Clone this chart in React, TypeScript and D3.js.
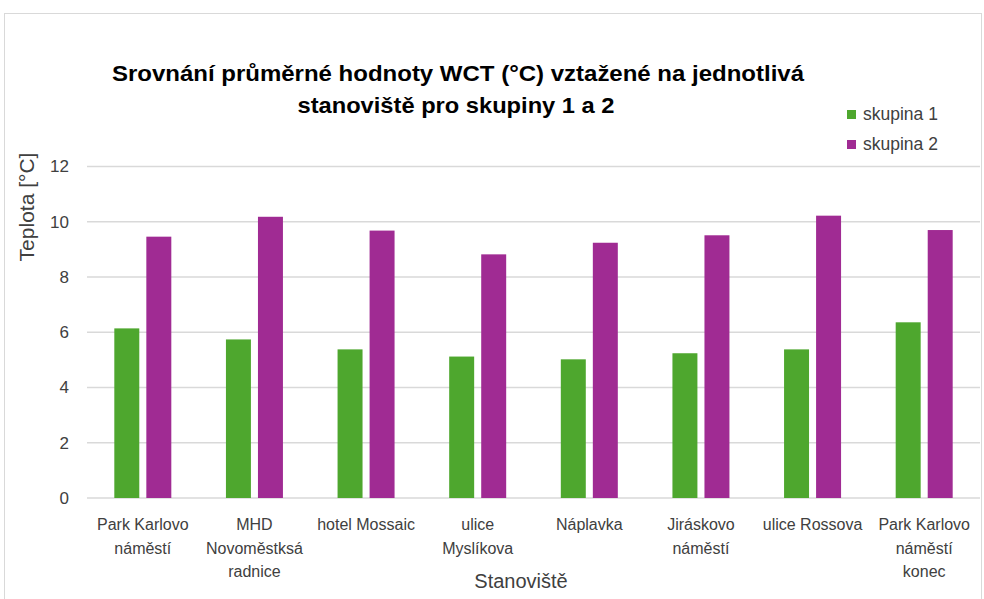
import * as d3 from "d3";

// stanoviště (popisky rozdělené do řádků jako v grafu)
const categories: string[][] = [
  ["Park Karlovo", "náměstí"],
  ["MHD", "Novoměstksá", "radnice"],
  ["hotel Mossaic"],
  ["ulice", "Myslíkova"],
  ["Náplavka"],
  ["Jiráskovo", "náměstí"],
  ["ulice Rossova"],
  ["Park Karlovo", "náměstí", "konec"],
];
const skupina1 = [6.14, 5.74, 5.38, 5.12, 5.02, 5.24, 5.38, 6.36];
const skupina2 = [9.46, 10.18, 9.68, 8.82, 9.24, 9.51, 10.22, 9.7];
const seriesNames = ["skupina 1", "skupina 2"];
const yTicks = [0, 2, 4, 6, 8, 10, 12];

const W = 984;
const H = 599;
const colors = ["#4EA72E", "#A02B93"];
const font = "'Liberation Sans', Arial, sans-serif";

export default function App() {
  const margin = {top: 166.5, right: 4, bottom: 101, left: 87};
  const x = d3.scaleBand<number>()
    .domain(d3.range(categories.length))
    .range([margin.left, W - margin.right]);
  const y = d3.scaleLinear().domain([0, 12]).range([H - margin.bottom, margin.top]);

  const inner = d3.scaleBand<number>().domain([0, 1]).range([0, 57]).paddingInner(0.22);
  const groupOffset = (x.bandwidth() - 57) / 2;

  const series = [skupina1, skupina2];

  return (
    <svg width={W} height={H} style={{position: "absolute", left: 0, top: 0, background: "#fff"}}
         fontFamily={font}>
      <rect x={4.5} y={13.5} width={977} height={620} fill="#fff" stroke="#d9d9d9" strokeWidth={1}/>

      {/* title */}
      <text x={458} y={81} textAnchor="middle" fontSize={22} fontWeight="bold" fill="#000"
            textLength={692} lengthAdjust="spacingAndGlyphs">
        Srovnání průměrné hodnoty WCT (°C) vztažené na jednotlivá
      </text>
      <text x={456} y={113} textAnchor="middle" fontSize={22} fontWeight="bold" fill="#000"
            textLength={317} lengthAdjust="spacingAndGlyphs">
        stanoviště pro skupiny 1 a 2
      </text>

      {/* legend */}
      {seriesNames.map((n, i) => (
        <g key={n} transform={`translate(847,${110 + i * 30})`}>
          <rect width={9} height={9} fill={colors[i]}/>
          <text x={16} y={10} fontSize={17.5} fill="#404040">{n}</text>
        </g>
      ))}

      {/* gridlines + y ticks */}
      {yTicks.map((t) => (
        <g key={t}>
          <line x1={margin.left} x2={W - margin.right} y1={y(t)} y2={y(t)} stroke="#d9d9d9" strokeWidth={1.3}/>
          <text x={69} y={y(t)} dy="0.35em" textAnchor="end" fontSize={17} fill="#404040">{t}</text>
        </g>
      ))}

      {/* bars */}
      {series.map((s, si) =>
        s.map((v, i) => (
          <rect key={`${si}-${i}`}
                x={(x(i) as number) + groupOffset + (inner(si) as number)}
                y={y(v)}
                width={inner.bandwidth()}
                height={y(0) - y(v)}
                fill={colors[si]}/>
        ))
      )}

      {/* x labels */}
      {categories.map((lines, i) => (
        <text key={i} x={(x(i) as number) + x.bandwidth() / 2} y={530} textAnchor="middle"
              fontSize={16} fill="#404040">
          {lines.map((l, j) => (
            <tspan key={j} x={(x(i) as number) + x.bandwidth() / 2} dy={j === 0 ? 0 : 23.5}>{l}</tspan>
          ))}
        </text>
      ))}

      {/* axis titles */}
      <text x={521} y={588} textAnchor="middle" fontSize={20} fill="#404040">Stanoviště</text>
      <text transform="translate(34,207) rotate(-90)" textAnchor="middle" fontSize={21} fill="#404040">
        Teplota [°C]
      </text>
    </svg>
  );
}
